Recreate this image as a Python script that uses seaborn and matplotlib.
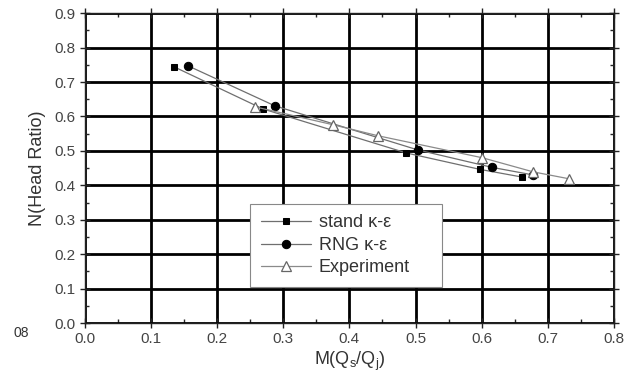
import matplotlib.pyplot as plt
from matplotlib.ticker import MultipleLocator
import seaborn as sns

sns.set_style("ticks")
plt.rcParams["font.family"] = ["Liberation Sans", "DejaVu Sans"]

# data
stand_x = [0.135, 0.269, 0.486, 0.598, 0.661]
stand_y = [0.744, 0.622, 0.494, 0.446, 0.424]
rng_x = [0.156, 0.287, 0.503, 0.616, 0.678]
rng_y = [0.747, 0.631, 0.503, 0.452, 0.430]
exp_x = [0.257, 0.375, 0.443, 0.601, 0.678, 0.732]
exp_y = [0.628, 0.576, 0.544, 0.480, 0.439, 0.419]

LINE = "#6f6f6f"

fig = plt.figure(figsize=(6.33, 3.86), dpi=100, facecolor="white")
ax = fig.add_axes([0.134, 0.163, 0.836, 0.803])

sns.lineplot(x=stand_x, y=stand_y, ax=ax, color=LINE, lw=0.9, marker="s",
             markersize=4.5, markerfacecolor="black", markeredgecolor="black",
             label="stand κ-ε", sort=False)
sns.lineplot(x=rng_x, y=rng_y, ax=ax, color=LINE, lw=0.9, marker="o",
             markersize=6, markerfacecolor="black", markeredgecolor="black",
             label="RNG κ-ε", sort=False)
sns.lineplot(x=exp_x, y=exp_y, ax=ax, color="#8a8a8a", lw=0.9, marker="^",
             markersize=7, markerfacecolor="white", markeredgecolor="#666666",
             markeredgewidth=0.9, label="Experiment", sort=False)

ax.set_xlim(0, 0.8)
ax.set_ylim(0, 0.9)
ax.xaxis.set_major_locator(MultipleLocator(0.1))
ax.yaxis.set_major_locator(MultipleLocator(0.1))
ax.xaxis.set_minor_locator(MultipleLocator(0.05))
ax.yaxis.set_minor_locator(MultipleLocator(0.05))
ax.xaxis.set_major_formatter(plt.FuncFormatter(lambda v, p: f"{v:.1f}"))
ax.yaxis.set_major_formatter(plt.FuncFormatter(lambda v, p: f"{v:.1f}"))

ax.grid(True, which="major", color="black", lw=2.0, zorder=0)
ax.set_axisbelow(True)
for s in ax.spines.values():
    s.set_color("#222222")
    s.set_linewidth(1.0)

ax.tick_params(which="major", direction="inout", length=7, width=1.0,
               labelsize=11, colors="#222222", labelcolor="#444444",
               top=True, right=True)
ax.tick_params(which="minor", direction="in", length=3, width=1.0,
               top=True, right=True)
ax.tick_params(axis="x", pad=3)

ax.set_xlabel(r"M(Q$_\mathregular{s}$/Q$_\mathregular{j}$)", fontsize=13,
              color="#333333", labelpad=3)
ax.set_ylabel("N(Head Ratio)", fontsize=13, color="#333333", labelpad=6)

leg = ax.legend(loc="lower left", bbox_to_anchor=(0.312, 0.116, 0.363, 0.27),
                mode="expand", fontsize=13, frameon=True, fancybox=False,
                edgecolor="#888888", framealpha=1, borderpad=0.6,
                labelspacing=0.3, handlelength=2.8, handletextpad=0.4,
                borderaxespad=0)
leg.get_frame().set_linewidth(0.8)
for t in leg.get_texts():
    t.set_color("#333333")

fig.text(0.022, 0.137, "08", fontsize=10, color="#333333", ha="left", va="center")

plt.savefig("out.png", dpi=100, facecolor="white")
